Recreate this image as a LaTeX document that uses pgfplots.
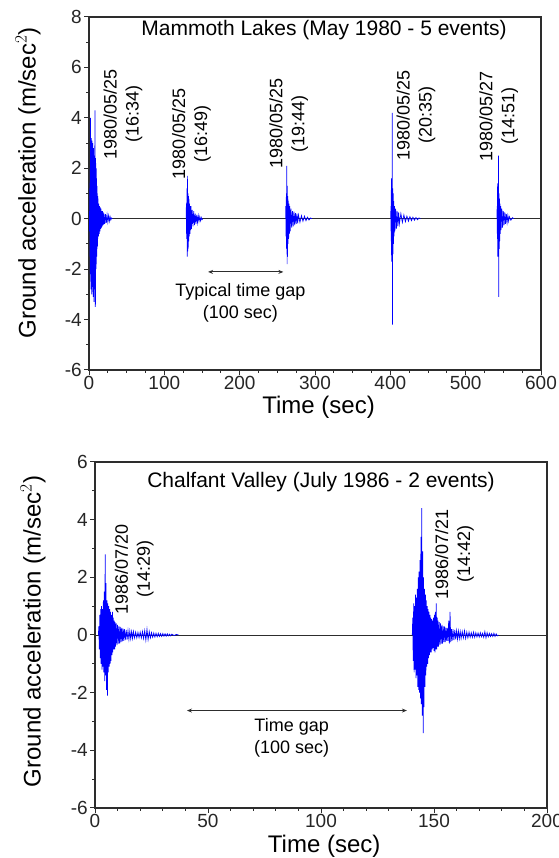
\documentclass[border=0pt]{standalone}
\usepackage{pgfplots}
\pgfplotsset{compat=1.18}
\usepackage{fontspec}
\setmainfont{Liberation Sans}
\usetikzlibrary{arrows.meta}
\definecolor{sig}{RGB}{0,0,255}
\definecolor{axc}{RGB}{45,45,45}
\pgfplotsset{
  seis/.style={
    scale only axis, anchor=south west,
    tick pos=left, tick align=outside,
    major tick length=5pt, minor tick length=3pt,
    axis line style={line width=1.2pt, axc},
    every tick/.style={line width=1pt, axc},
    tick label style={font=\fontsize{19}{19}\selectfont, text=black!85},
    xticklabel style={inner sep=1pt},
    yticklabel style={inner sep=2pt},
    /pgf/number format/assume math mode=true,
    label style={font=\fontsize{24}{24}\selectfont},
    clip=true,
  },
}
\tikzset{
  ann/.style={font=\fontsize{18}{22}\selectfont, align=center},
  dat/.style={rotate=90, font=\fontsize{18}{22}\selectfont, align=center},
}
\begin{document}
\begin{tikzpicture}
\path[use as bounding box] (0,0) rectangle (558pt,858pt);
% ---------------- top panel ----------------
\begin{axis}[seis, at={(89pt,488pt)}, width=452pt, height=353pt,
  xmin=0, xmax=600, ymin=-6, ymax=8,
  xtick={0,100,...,600}, ytick={-6,-4,...,8},
  minor x tick num=3, minor y tick num=1,
  xlabel={Time (sec)}, ylabel={Ground acceleration (m/sec$^{2}$)},
  xlabel style={at={(axis description cs:0.508,-0.105)}, anchor=center},
  ylabel style={at={(axis description cs:-0.135,0.53)}, anchor=center},
]
\addplot[axc, line width=0.7pt] coordinates {(0,0) (600,0)};
\addplot[sig, line width=0.7pt] coordinates {
(0.5,0.3) (0.75,-0.5) (1,1.2) (1.25,-1.5) (1.5,2.0) (1.75,-2.2) (2,4.0) (2.25,-2.5)
(2.5,3.0) (2.75,-2.8) (3,3.2) (3.25,-2.6) (3.5,2.9) (3.75,-3.0) (4,3.1) (4.25,-2.4)
(4.5,2.9) (4.75,-2.7) (5,3.0) (5.25,-2.9) (5.5,2.6) (5.75,-3.1) (6,2.8) (6.25,-2.6)
(6.5,2.5) (6.75,-3.3) (7,2.2) (7.25,-2.5) (7.5,2.9) (7.75,-2.8) (8,4.3) (8.25,-3.5)
(8.5,2.4) (8.75,-3.4) (9,2.2) (9.25,-2.0) (9.5,2.0) (9.75,-1.8) (10,1.6) (10.25,-1.5)
(10.5,1.3) (10.75,-1.2) (11,1.0) (11.25,-1.1) (11.5,0.9) (11.75,-0.8) (12,0.8) (12.5,-0.7)
(13,0.6) (13.5,-0.6) (14,0.5) (14.5,-0.5) (15,0.45) (15.5,-0.4) (16,0.4) (16.5,-0.35)
(17,0.3) (17.5,-0.3) (18,0.3) (18.5,-0.25) (19,0.25) (19.5,-0.22) (20,0.2) (21,-0.2)
(22,0.18) (23,-0.16) (24,0.15) (25,-0.13) (26,0.12) (27,-0.1) (28,0.08) (29,-0.05)
(30,0.03) (31,0)
};
\addplot[sig, line width=0.7pt] coordinates {
(129,0) (129.3,0.6) (129.6,-0.8) (130,1.2) (130.3,-1.5) (130.6,1.7) (131,-1.3) (131.3,1.0)
(131.6,-1.2) (132,0.9) (132.3,-0.9) (132.6,0.8) (133,-0.7) (133.5,0.6) (134,-0.6) (134.5,0.5)
(135,-0.45) (135.5,0.5) (136,-0.4) (137,0.35) (138,-0.3) (139,0.3) (140,-0.25) (141,0.2)
(142,-0.2) (143,0.15) (144,-0.15) (145,0.12) (146,-0.1) (147,0.08) (148,-0.08) (149,0.05)
(150,-0.04) (151,0)
};
\addplot[sig, line width=0.7pt] coordinates {
(261,0) (261.3,0.5) (261.6,-0.7) (262,1.0) (262.3,-1.2) (262.6,2.1) (263,-1.8) (263.3,1.3)
(263.6,-1.5) (264,0.9) (264.3,-1.0) (264.6,0.7) (265,-0.8) (265.5,0.6) (266,-0.6) (266.5,0.5)
(267,-0.5) (268,0.4) (269,-0.35) (270,0.3) (271,-0.3) (272,0.28) (273,-0.25) (274,0.22)
(275,-0.2) (276,0.2) (277,-0.18) (278,0.15) (280,-0.14) (282,0.12) (284,-0.1) (286,0.1)
(288,-0.08) (290,0.06) (292,-0.05) (294,0.03) (296,0)
};
\addplot[sig, line width=0.7pt] coordinates {
(400.5,0) (400.8,0.5) (401.1,-0.9) (401.4,1.6) (401.7,-1.7) (402,1.4) (402.3,-1.5) (402.6,4.2)
(402.9,-4.2) (403.2,1.2) (403.5,-1.4) (403.8,1.0) (404.1,-1.0) (404.5,0.7) (405,-0.7) (405.5,0.5)
(406,-0.5) (407,0.4) (408,-0.4) (409,0.3) (410,-0.3) (411,0.25) (412,-0.2) (414,0.2)
(416,-0.15) (418,0.15) (420,-0.12) (422,0.1) (424,-0.1) (426,0.08) (428,-0.08) (430,0.06)
(432,-0.06) (434,0.05) (436,-0.04) (438,0.03) (440,0)
};
\addplot[sig, line width=0.7pt] coordinates {
(541.5,0) (541.8,0.5) (542.1,-0.8) (542.4,1.4) (542.7,-1.5) (543,1.2) (543.3,-1.3) (543.6,2.5)
(543.9,-3.1) (544.2,1.0) (544.5,-1.2) (544.8,0.8) (545.1,-0.9) (545.5,0.6) (546,-0.6) (546.5,0.5)
(547,-0.45) (548,0.4) (549,-0.35) (550,0.3) (551,-0.25) (552,0.25) (553,-0.2) (554,0.18)
(555,-0.15) (556,0.12) (557,-0.1) (558,0.08) (560,-0.06) (562,0.04) (564,0)
};
\node[font=\fontsize{21}{21}\selectfont] at (axis cs:312,7.48) {Mammoth Lakes (May 1980 - 5 events)};
\node[dat] at (axis cs:45,4.15) {1980/05/25\\(16:34)};
\node[dat] at (axis cs:136,3.36) {1980/05/25\\(16:49)};
\node[dat] at (axis cs:265,3.76) {1980/05/25\\(19:44)};
\node[dat] at (axis cs:434,4.11) {1980/05/25\\(20:35)};
\node[dat] at (axis cs:544,4.07) {1980/05/27\\(14:51)};
\draw[{Stealth[length=5pt,width=4pt]}-{Stealth[length=5pt,width=4pt]}, line width=0.9pt, axc] (axis cs:158,-2.11) -- (axis cs:258,-2.11);
\node[ann] at (axis cs:201,-3.35) {Typical time gap\\(100 sec)};
\end{axis}
% ---------------- bottom panel ----------------
\begin{axis}[seis, at={(95pt,50pt)}, width=452pt, height=346pt,
  xmin=0, xmax=200, ymin=-6, ymax=6,
  xtick={0,50,...,200}, ytick={-6,-4,...,6},
  minor x tick num=4, minor y tick num=1,
  xlabel={Time (sec)}, ylabel={Ground acceleration (m/sec$^{2}$)},
  xlabel style={at={(axis description cs:0.507,0)}, anchor=north, yshift=-24pt},
  ylabel style={at={(axis description cs:-0.137,0.51)}, anchor=center},
]
\addplot[axc, line width=0.7pt] coordinates {(0,0) (200,0)};
\addplot[sig, line width=0.7pt] coordinates {
(1.5,0) (1.7,0.3) (1.9,-0.5) (2.1,0.7) (2.3,-0.8) (2.5,0.9) (2.7,-1.0) (2.9,1.0)
(3.1,-1.2) (3.3,0.9) (3.5,-1.1) (3.7,1.2) (3.9,-1.3) (4.1,1.5) (4.3,-1.6) (4.5,2.8)
(4.7,-1.4) (4.9,1.8) (5.1,-1.9) (5.3,1.2) (5.5,-2.1) (5.7,1.1) (5.9,-1.3) (6.1,1.0)
(6.3,-1.1) (6.5,0.9) (6.7,-1.0) (6.9,0.8) (7.1,-0.9) (7.3,0.7) (7.5,-0.7) (7.7,0.8)
(7.9,-0.6) (8.1,0.6) (8.3,-0.5) (8.5,0.5) (8.7,-0.5) (8.9,0.45) (9.1,-0.4) (9.4,0.4)
(9.7,-0.35) (10.0,0.35) (10.3,-0.3) (10.6,0.3) (10.9,-0.3) (11.2,0.28) (11.5,-0.25) (11.8,0.25)
(12.1,-0.22) (12.4,0.22) (12.7,-0.2) (13.0,0.2) (13.4,-0.18) (13.8,0.18) (14.2,-0.16) (14.6,0.15)
(15.0,-0.15) (15.4,0.14) (15.8,-0.13) (16.2,0.12) (16.6,-0.12) (17.0,0.12) (17.5,-0.1) (18.0,0.1)
(18.5,-0.1) (19.0,0.09) (19.5,-0.09) (20.0,0.1) (20.5,-0.1) (21.0,0.12) (21.5,-0.12) (22.0,0.15)
(22.5,-0.18) (23.0,0.2) (23.5,-0.16) (24.0,0.12) (24.5,-0.1) (25.0,0.08) (25.5,-0.08) (26.0,0.07)
(26.5,-0.07) (27.0,0.06) (27.5,-0.06) (28.0,0.06) (28.5,-0.05) (29,0.05) (29.5,-0.05) (30,0.05)
(30.5,-0.04) (31,0.04) (31.5,-0.04) (32,0.04) (32.5,-0.03) (33,0.03) (33.5,-0.03) (34,0.03)
(35,-0.02) (36,0.02) (37,0)
};
\addplot[sig, line width=0.7pt] coordinates {
(140.4,0) (140.6,0.6) (140.8,-0.9) (141.0,1.1) (141.2,-1.3) (141.4,1.0) (141.6,-1.2) (141.8,1.4)
(142.0,-1.5) (142.2,1.3) (142.4,-1.4) (142.6,1.6) (142.8,-1.8) (143.0,2.0) (143.2,-1.9) (143.4,2.2)
(143.6,-2.0) (143.8,2.6) (144.0,-2.2) (144.2,3.4) (144.4,-2.4) (144.6,4.4) (144.8,-2.8) (145.0,2.9)
(145.2,-3.4) (145.4,2.0) (145.6,-2.5) (145.8,1.6) (146.0,-1.8) (146.2,1.4) (146.4,-1.4) (146.6,1.2)
(146.8,-1.1) (147.0,1.0) (147.2,-1.0) (147.4,0.9) (147.6,-0.8) (147.8,0.8) (148.0,-0.7) (148.2,0.7)
(148.4,-0.6) (148.6,0.6) (148.8,-0.6) (149.0,0.55) (149.2,-0.5) (149.4,0.5) (149.6,-0.45) (149.8,0.6)
(150.0,-0.55) (150.2,0.7) (150.4,-0.6) (150.6,0.8) (150.8,-0.5) (151.0,1.1) (151.2,-0.5) (151.4,0.6)
(151.6,-0.4) (151.8,0.5) (152.0,-0.4) (152.3,0.45) (152.6,-0.35) (152.9,0.4) (153.2,-0.3) (153.5,0.35)
(153.8,-0.3) (154.1,0.3) (154.4,-0.25) (154.7,0.3) (155.0,-0.25) (155.3,0.25) (155.6,-0.2) (155.9,0.25)
(156.2,-0.2) (156.5,0.5) (156.8,-0.3) (157.1,0.8) (157.4,-0.25) (157.7,0.2) (158.0,-0.2) (158.4,0.2)
(158.8,-0.18) (159.2,0.18) (159.6,-0.15) (160.0,0.15) (160.4,-0.14) (160.8,0.14) (161.2,-0.12) (161.6,0.12)
(162.0,-0.12) (162.5,0.12) (163.0,-0.1) (163.5,0.15) (164.0,-0.12) (164.5,0.1) (165.0,-0.1) (165.5,0.1)
(166.0,-0.08) (166.5,0.08) (167.0,-0.08) (167.5,0.1) (168.0,-0.08) (168.5,0.08) (169.0,-0.07) (169.5,0.07)
(170.0,-0.07) (170.5,0.08) (171.0,-0.06) (171.5,0.06) (172.0,-0.08) (172.5,0.12) (173.0,-0.1) (173.5,0.08)
(174.0,-0.06) (174.5,0.06) (175.0,-0.05) (175.5,0.05) (176.0,-0.05) (176.5,0.06) (177.0,-0.05) (177.5,0.04)
(178.0,-0.03) (178.5,0)
};
\node[font=\fontsize{21}{21}\selectfont] at (axis cs:100,5.32) {Chalfant Valley (July 1986 - 2 events)};
\node[dat] at (axis cs:17.3,2.28) {1986/07/20\\(14:29)};
\node[dat] at (axis cs:159,2.8) {1986/07/21\\(14:42)};
\draw[{Stealth[length=5pt,width=4pt]}-{Stealth[length=5pt,width=4pt]}, line width=0.9pt, axc] (axis cs:40.7,-2.62) -- (axis cs:138,-2.62);
\node[ann] at (axis cs:87,-3.55) {Time gap\\(100 sec)};
\end{axis}
\end{tikzpicture}
\end{document}
